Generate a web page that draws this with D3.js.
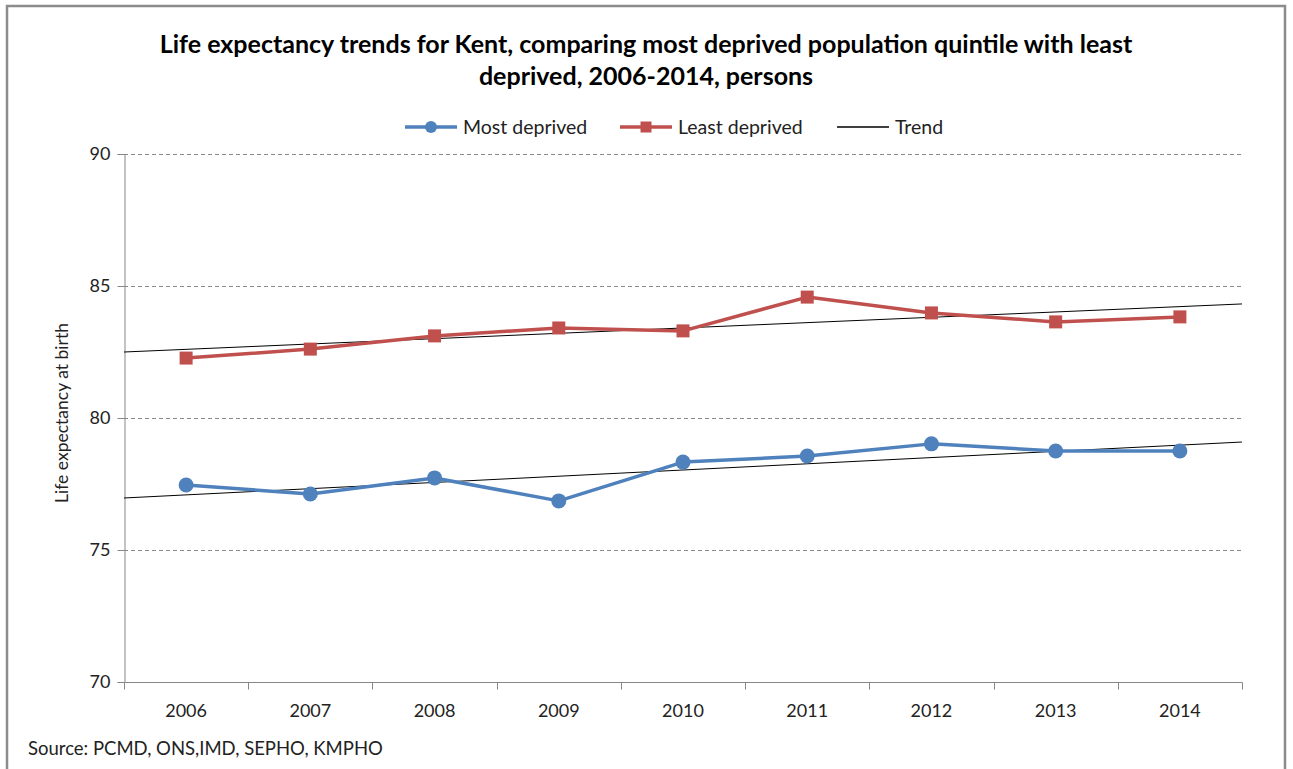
<!DOCTYPE html>
<html>
<head>
<meta charset="utf-8">
<script src="https://cdn.jsdelivr.net/npm/d3@7"></script>
<style>
  html, body { margin: 0; padding: 0; background: #fff; }
  svg { display: block; font-family: Lato, "Open Sans", sans-serif; }
</style>
</head>
<body>
<svg id="chart" width="1293" height="769"></svg>
<script>
// Life expectancy at birth, Kent, by deprivation quintile
const years = ["2006", "2007", "2008", "2009", "2010", "2011", "2012", "2013", "2014"];
const mostDeprived  = [77.46, 77.12, 77.73, 76.86, 78.33, 78.56, 79.02, 78.75, 78.75];
const leastDeprived = [82.27, 82.61, 83.11, 83.41, 83.30, 84.58, 83.98, 83.64, 83.83];
// Trend series: values at the left and right edges of the plot
const trendMost  = [76.97, 79.09];
const trendLeast = [82.50, 84.32];
const yTicks = [70, 75, 80, 85, 90];

const titleLines = [
  "Life expectancy trends for Kent, comparing most deprived population quintile with least",
  "deprived, 2006-2014, persons"
];
const sourceText = "Source: PCMD, ONS,IMD, SEPHO, KMPHO";

const blue = "#4f81bd", red = "#c0504d", axisGrey = "#878787";

const svg = d3.select("#chart");
const plot = { left: 124, right: 1242, top: 154, bottom: 682 };

// outer frame (open at the bottom)
svg.append("path")
  .attr("d", "M7,769 V6 H1285 V769")
  .attr("fill", "none").attr("stroke", "#8c8c8c").attr("stroke-width", 2.5);

const x = d3.scaleBand().domain(years).range([plot.left, plot.right]).padding(0);
const y = d3.scaleLinear().domain([70, 90]).range([plot.bottom, plot.top]);
const cx = d => x(d) + x.bandwidth() / 2;

// title
svg.append("g").selectAll("text").data(titleLines).join("text")
  .attr("x", 646).attr("y", (d, i) => 53 + i * 32)
  .attr("text-anchor", "middle")
  .attr("font-weight", "bold").attr("font-size", 25).attr("fill", "#000")
  .text(d => d);

// dashed gridlines
svg.append("g").selectAll("line").data(yTicks.filter(t => t > 70)).join("line")
  .attr("x1", plot.left).attr("x2", plot.right)
  .attr("y1", d => y(d) + 0.5).attr("y2", d => y(d) + 0.5)
  .attr("stroke", "#8a8a8a").attr("stroke-width", 1).attr("stroke-dasharray", "4,3");

// y axis
const yAxis = d3.axisLeft(y).tickValues(yTicks).tickSize(7).tickPadding(7);
const gy = svg.append("g").attr("transform", `translate(${plot.left + 0.5},0)`).call(yAxis);
gy.select(".domain").attr("stroke", axisGrey);
gy.selectAll(".tick line").attr("stroke", axisGrey);
gy.selectAll(".tick text").attr("font-size", 18).attr("fill", "#222").attr("font-family", "Lato, sans-serif");

// x axis: ticks on category boundaries
const gx = svg.append("g").attr("transform", `translate(0,${plot.bottom + 0.5})`);
gx.append("line").attr("x1", plot.left).attr("x2", plot.right + 0.5)
  .attr("stroke", axisGrey);
const bounds = years.map(d => x(d)).concat([plot.right]);
gx.selectAll("line.tk").data(bounds).join("line").attr("class", "tk")
  .attr("x1", d => Math.round(d) + 0.5).attr("x2", d => Math.round(d) + 0.5)
  .attr("y1", 0).attr("y2", 7).attr("stroke", axisGrey);
gx.selectAll("text").data(years).join("text")
  .attr("x", d => cx(d)).attr("y", 34)
  .attr("text-anchor", "middle").attr("font-size", 18).attr("fill", "#222")
  .text(d => d);

// y axis title
svg.append("text")
  .attr("transform", "translate(68,413) rotate(-90)")
  .attr("text-anchor", "middle").attr("font-size", 17.5).attr("fill", "#222")
  .text("Life expectancy at birth");

// trend lines
const edgeX = [plot.left, plot.right];
const trendLine = d3.line().x((d, i) => edgeX[i]).y(d => y(d));
[trendLeast, trendMost].forEach(t => {
  svg.append("path").attr("d", trendLine(t))
    .attr("fill", "none").attr("stroke", "#000").attr("stroke-width", 1);
});

// data series
const line = d3.line().x((d, i) => cx(years[i])).y(d => y(d));
svg.append("path").attr("d", line(leastDeprived))
  .attr("fill", "none").attr("stroke", red).attr("stroke-width", 3.5).attr("stroke-linejoin", "round");
svg.append("g").selectAll("rect").data(leastDeprived).join("rect")
  .attr("x", (d, i) => cx(years[i]) - 6.5).attr("y", d => y(d) - 6.5)
  .attr("width", 13).attr("height", 13).attr("fill", red);

svg.append("path").attr("d", line(mostDeprived))
  .attr("fill", "none").attr("stroke", blue).attr("stroke-width", 3.5).attr("stroke-linejoin", "round");
svg.append("g").selectAll("circle").data(mostDeprived).join("circle")
  .attr("cx", (d, i) => cx(years[i])).attr("cy", d => y(d))
  .attr("r", 7.5).attr("fill", blue);

// legend
const legend = svg.append("g").attr("transform", "translate(0,127)");
const items = [
  { label: "Most deprived", x0: 405, color: blue, marker: "circle", w: 3.5 },
  { label: "Least deprived", x0: 620, color: red, marker: "square", w: 3.5 },
  { label: "Trend", x0: 837, color: "#000", marker: null, w: 1.3 }
];
items.forEach(it => {
  const g = legend.append("g");
  g.append("line").attr("x1", it.x0).attr("x2", it.x0 + 52).attr("y1", 0).attr("y2", 0)
    .attr("stroke", it.color).attr("stroke-width", it.w);
  if (it.marker === "circle") g.append("circle").attr("cx", it.x0 + 26).attr("cy", 0).attr("r", 6).attr("fill", it.color);
  if (it.marker === "square") g.append("rect").attr("x", it.x0 + 20.5).attr("y", -5.5).attr("width", 11).attr("height", 11).attr("fill", it.color);
  g.append("text").attr("x", it.x0 + 58).attr("y", 7).attr("font-size", 19.5).attr("fill", "#222").text(it.label);
});

// source note
svg.append("text").attr("x", 28).attr("y", 755).attr("font-size", 18.5).attr("fill", "#222").text(sourceText);
</script>
</body>
</html>
